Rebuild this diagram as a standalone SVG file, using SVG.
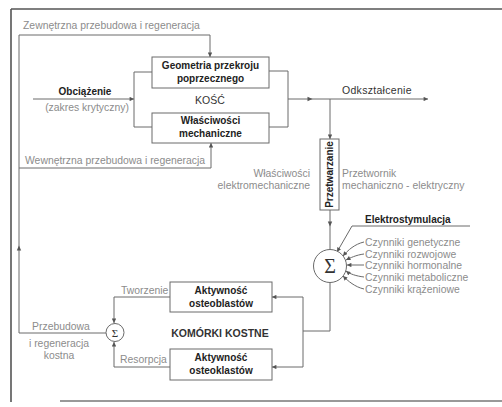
<svg xmlns="http://www.w3.org/2000/svg" width="502" height="407" viewBox="0 0 502 407">
<defs>
<style>
.ln{fill:none;stroke:#6a6a6a;stroke-width:1}
.frame{fill:none;stroke:#555;stroke-width:1.6}
.box{fill:#fff;stroke:#6a6a6a;stroke-width:1}
.bt{font-family:"Liberation Sans",Arial,sans-serif;font-size:10px;font-weight:bold;fill:#222;text-anchor:middle}
.gt{font-family:"Liberation Sans",Arial,sans-serif;font-size:10.4px;fill:#8c8c8c}
.nt{font-family:"Liberation Sans",Arial,sans-serif;font-size:10.5px;fill:#333}
.sig{font-family:"Liberation Serif","Times New Roman",serif;fill:#333;text-anchor:middle}
.ah{fill:#555}
</style>
<marker id="arr" viewBox="0 0 6 6" refX="6" refY="3" markerWidth="5" markerHeight="4.4" orient="auto" markerUnits="userSpaceOnUse">
<path d="M0,0 L6,3 L0,6 Z" fill="#555"/>
</marker>
<path id="mid" d="M2.5,0 L-2.5,-2.2 L-2.5,2.2 Z"/>
</defs>
<rect width="502" height="407" fill="#fff"/>
<g id="frame">
<path class="frame" d="M11,9 H502 M11,9 V402"/>
<path d="M60,401 H502" stroke="#777" stroke-width="1.6" fill="none"/>
</g>
<g id="connectors">
<path class="ln" d="M106,333 H19 V35 H210 V57" marker-end="url(#arr)"/>
<path class="ln" d="M19,168 H211 V143" marker-end="url(#arr)"/>
<use href="#mid" class="ah" transform="translate(19,248) rotate(-90)"/>
<path class="ln" d="M33,99 H134" marker-end="url(#arr)"/>
<path class="ln" d="M152,72 H134 V127 H152"/>
<path class="ln" d="M269,71 H288 V127 H269"/>
<path class="ln" d="M288,99 H428" marker-end="url(#arr)"/>
<use href="#mid" class="ah" transform="translate(310,99)"/>
<path class="ln" d="M330,99 V139" marker-end="url(#arr)"/>
<path class="ln" d="M330,210 V249.5"/>
<use href="#mid" class="ah" transform="translate(330,224) rotate(90)"/>
<path class="ln" d="M470,226 H352 L337,252" marker-end="url(#arr)"/>
<path class="ln" d="M364,242 C355,244 348,250 343,256" marker-end="url(#arr)"/>
<path class="ln" d="M364,254 C356,255 350,258 346,260" marker-end="url(#arr)"/>
<path class="ln" d="M364,265 H347" marker-end="url(#arr)"/>
<path class="ln" d="M364,277 C356,276 350,274 346,271" marker-end="url(#arr)"/>
<path class="ln" d="M364,289 C355,287 348,281 343,276" marker-end="url(#arr)"/>
<path class="ln" d="M330,282.5 V331 H303"/>
<path class="ln" d="M303,297 V367"/>
<path class="ln" d="M303,297 H272" marker-end="url(#arr)"/>
<path class="ln" d="M303,367 H272" marker-end="url(#arr)"/>
<path class="ln" d="M170,297 H114 V323" marker-end="url(#arr)"/>
<path class="ln" d="M170,367 H114 V342" marker-end="url(#arr)"/>
</g>
<g id="labels">
<text class="gt" x="23" y="29">Zewnętrzna przebudowa i regeneracja</text>
<text class="gt" x="25" y="164">Wewnętrzna przebudowa i regeneracja</text>
<text class="bt" x="85" y="95">Obciążenie</text>
<text class="gt" x="87" y="111" text-anchor="middle">(zakres krytyczny)</text>
<text class="nt" x="210" y="104" text-anchor="middle">KOŚĆ</text>
<text class="nt" x="342" y="94" letter-spacing="0.3">Odkształcenie</text>
<text class="gt" x="310" y="177" text-anchor="end">Właściwości</text>
<text class="gt" x="310" y="189" text-anchor="end">elektromechaniczne</text>
<text class="gt" x="342" y="177">Przetwornik</text>
<text class="gt" x="342" y="189">mechaniczno - elektryczny</text>
<text class="bt" x="365" y="223" style="text-anchor:start">Elektrostymulacja</text>
<text class="gt" x="365" y="246">Czynniki genetyczne</text>
<text class="gt" x="365" y="258">Czynniki rozwojowe</text>
<text class="gt" x="365" y="269">Czynniki hormonalne</text>
<text class="gt" x="365" y="281">Czynniki metaboliczne</text>
<text class="gt" x="365" y="293">Czynniki krążeniowe</text>
<text class="gt" x="121" y="294">Tworzenie</text>
<text class="gt" x="120" y="363">Resorpcja</text>
<text class="gt" x="61" y="330" text-anchor="middle">Przebudowa</text>
<text class="gt" x="59" y="347" text-anchor="middle">i regeneracja</text>
<text class="gt" x="59" y="359" text-anchor="middle">kostna</text>
<text class="nt" x="220" y="337" text-anchor="middle" font-weight="bold" font-size="10">KOMÓRKI KOSTNE</text>
</g>
<g id="geometria">
<rect class="box" x="152" y="57" width="117" height="31"/>
<text class="bt" x="210.5" y="69">Geometria przekroju</text>
<text class="bt" x="210.5" y="82">poprzecznego</text>
</g>
<g id="wlasciwosci">
<rect class="box" x="152" y="113" width="117" height="30"/>
<text class="bt" x="210.5" y="124">Właściwości</text>
<text class="bt" x="210.5" y="137">mechaniczne</text>
</g>
<g id="przetwarzanie">
<rect class="box" x="320" y="139" width="19" height="71"/>
<text class="bt" transform="translate(333,174.5) rotate(-90)">Przetwarzanie</text>
</g>
<g id="sumator">
<circle cx="330" cy="266" r="16.5" fill="#fff" stroke="#6a6a6a"/>
<text class="sig" x="330" y="273" font-size="20">Σ</text>
</g>
<g id="sumator-kostny">
<circle cx="115" cy="332.5" r="9" fill="#fff" stroke="#6a6a6a"/>
<text class="sig" x="115" y="336.5" font-size="11">Σ</text>
</g>
<g id="osteoblasty">
<rect class="box" x="170" y="282" width="102" height="30"/>
<text class="bt" x="221" y="294">Aktywność</text>
<text class="bt" x="221" y="307">osteoblastów</text>
</g>
<g id="osteoklasty">
<rect class="box" x="170" y="349" width="102" height="31"/>
<text class="bt" x="221" y="361">Aktywność</text>
<text class="bt" x="221" y="374">osteoklastów</text>
</g>
</svg>
